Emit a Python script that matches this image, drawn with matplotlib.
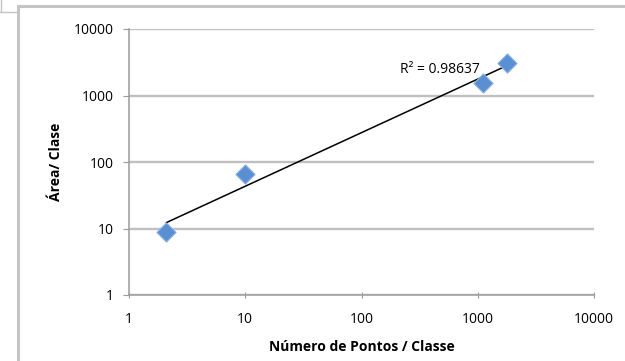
import numpy as np
import matplotlib as mpl
import matplotlib.pyplot as plt
from matplotlib.patches import Rectangle

# Data
pontos = [2.1, 10, 1110, 1790]
area = [8.9, 67, 1560, 3100]
r2_label = "R² = 0.98637"

plt.rcParams["font.family"] = ["Open Sans", "DejaVu Sans"]

W, H = 625, 361
fig = plt.figure(figsize=(6.25, 3.61), dpi=100)
fig.patch.set_facecolor("white")

# outer chart frame (Excel style)
fig.patches.append(Rectangle((18 / W, -0.05), 1.0, 1 - 6 / H + 0.05, transform=fig.transFigure,
                             fill=False, edgecolor="#c4c4c4", linewidth=2.2))
fig.lines.append(plt.Line2D([0, 18 / W], [1 - 12 / H, 1 - 12 / H], transform=fig.transFigure,
                            color="#c4c4c4", linewidth=1))
fig.lines.append(plt.Line2D([1 / W, 1 / W], [1, 1 - 12 / H], transform=fig.transFigure,
                            color="#c4c4c4", linewidth=1))

ax = fig.add_axes([129 / W, 1 - 295 / H, 465 / W, 266 / H])
ax.set_xscale("log")
ax.set_yscale("log")
ax.set_xlim(1, 10000)
ax.set_ylim(1, 10000)

# power trendline fitted in log space
coef = np.polyfit(np.log10(pontos), np.log10(area), 1)
xs = np.logspace(np.log10(pontos[0]), np.log10(pontos[-1]), 50)
ax.plot(xs, 10 ** np.polyval(coef, np.log10(xs)), color="black", linewidth=1.1, zorder=3)

ax.scatter(pontos, area, marker="D", s=95, color="#5b8fd3", edgecolor="#8ab0e0", linewidth=0.8, zorder=4)

ax.text(215, 2450, r2_label, fontsize=10, ha="left", va="center", zorder=5)

ax.set_xticks([1, 10, 100, 1000, 10000])
ax.set_xticklabels(["1", "10", "100", "1000", "10000"])
ax.set_yticks([1, 10, 100, 1000, 10000])
ax.set_yticklabels(["1", "10", "100", "1000", "10000"])
ax.minorticks_off()

ax.grid(axis="y", color="#c0c0c0", linewidth=1.7)
ax.set_axisbelow(True)
for side in ["top", "right"]:
    ax.spines[side].set_visible(False)
for side in ["left", "bottom"]:
    ax.spines[side].set_color("#9a9a9a")
    ax.spines[side].set_linewidth(1.1)

ax.tick_params(axis="x", direction="inout", length=5, color="#9a9a9a", labelsize=10, pad=10)
ax.tick_params(axis="y", direction="out", length=4, color="#9a9a9a", labelsize=10, pad=7)

ax.set_xlabel("Número de Pontos / Classe", fontsize=10, fontweight="bold", labelpad=9)
ax.set_ylabel("Área/ Clase", fontsize=10, fontweight="bold", labelpad=8)

plt.savefig("out.png", dpi=100)
